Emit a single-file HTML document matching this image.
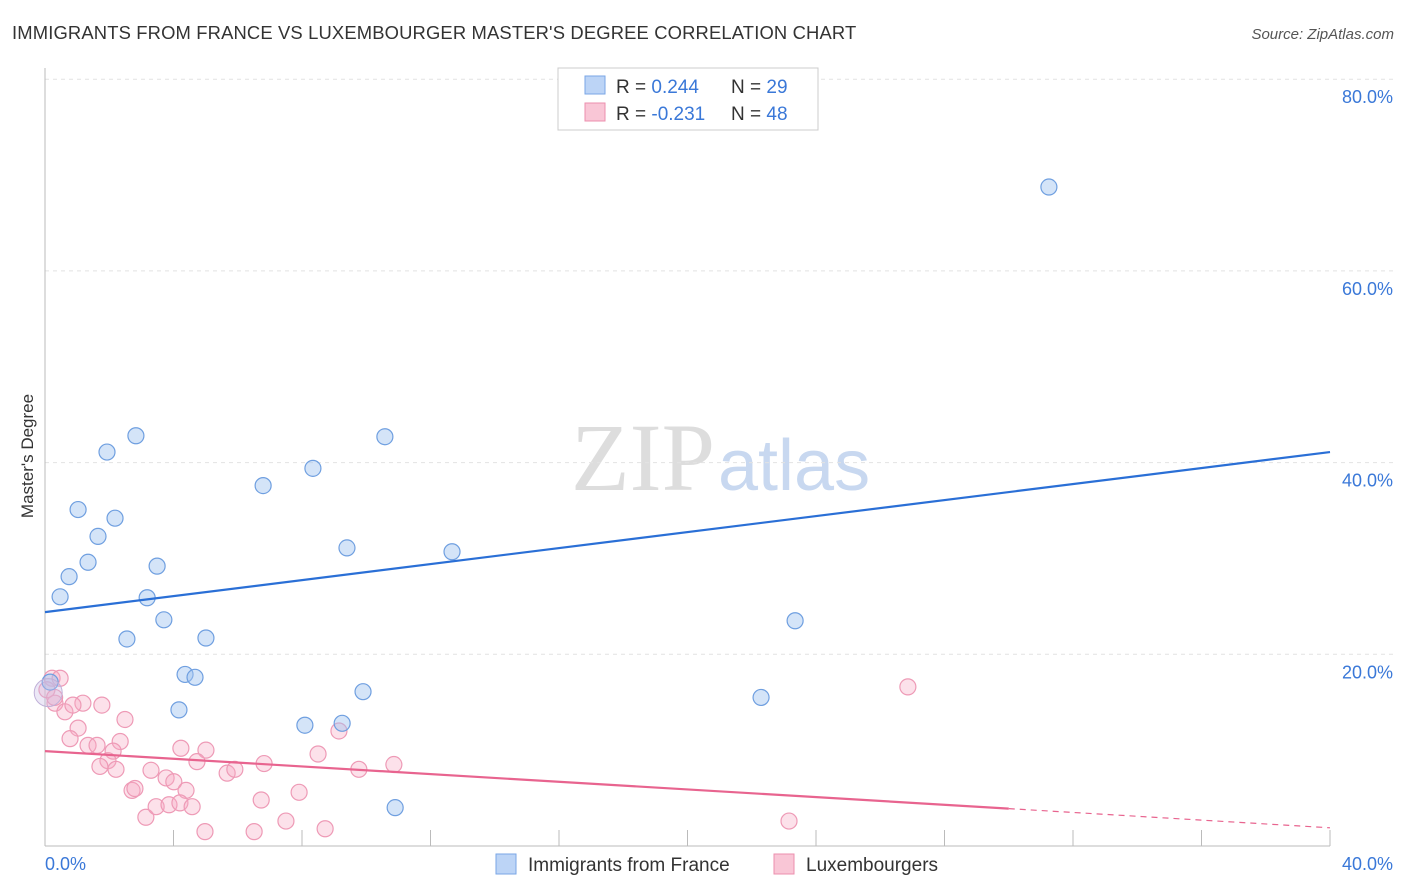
<!DOCTYPE html>
<html><head><meta charset="utf-8"><style>
body{margin:0;background:#fff;font-family:"Liberation Sans",sans-serif;}
svg{display:block}
</style></head><body>
<svg width="1406" height="892" xmlns="http://www.w3.org/2000/svg">
<text x="12" y="39" font-size="18.4" fill="#333" letter-spacing="0.15">IMMIGRANTS FROM FRANCE VS LUXEMBOURGER MASTER'S DEGREE CORRELATION CHART</text>
<text x="1394" y="39" font-size="15" fill="#555" font-style="italic" text-anchor="end">Source: ZipAtlas.com</text>
<text x="715" y="490" font-size="96" fill="#ddd" text-anchor="end" font-family="Liberation Serif,serif">ZIP</text>
<text x="718" y="490" font-size="72" fill="#c8d8f0">atlas</text>
<g id="grid"></g>
<line x1="45" y1="68" x2="45" y2="846" stroke="#bbb"/>
<line x1="45" y1="846" x2="1330" y2="846" stroke="#bbb"/>
<g id="xticks"></g>
<text x="45" y="870" font-size="18" fill="#3a78d8">0.0%</text>
<text x="1393" y="870" font-size="18" fill="#3a78d8" text-anchor="end">40.0%</text>
<text transform="translate(33,456) rotate(-90)" font-size="17" fill="#333" text-anchor="middle">Master's Degree</text>
<g id="points"></g>
<g id="lines"></g>
<g>
<rect x="558" y="68" width="260" height="62" fill="#fff" stroke="#ccc"/>
<rect x="585" y="76" width="20" height="18" fill="#bcd4f6" stroke="#7aa6e6"/>
<text x="616" y="93" font-size="19" fill="#333">R = <tspan fill="#3a78d8">0.244</tspan><tspan x="731">N = </tspan><tspan fill="#3a78d8">29</tspan></text>
<rect x="585" y="103" width="20" height="18" fill="#f9c6d6" stroke="#ec8fae"/>
<text x="616" y="120" font-size="19" fill="#333">R = <tspan fill="#3a78d8">-0.231</tspan><tspan x="731">N = </tspan><tspan fill="#3a78d8">48</tspan></text>
</g>
<g>
<rect x="496" y="854" width="20" height="20" fill="#bcd4f6" stroke="#7aa6e6"/>
<text x="528" y="871" font-size="19" fill="#333">Immigrants from France</text>
<rect x="774" y="854" width="20" height="20" fill="#f9c6d6" stroke="#ec8fae"/>
<text x="806" y="871" font-size="19" fill="#333">Luxembourgers</text>
</g>
</svg>
<script>
const yTicks=[20,40,60,80];
const yTickLabels=["20.0%","40.0%","60.0%","80.0%"];
const xTickVals=[4,8,12,16,20,24,28,32,36,40];
const blueX=[31.25,2.83,1.93,10.58,8.34,6.79,1.03,2.18,1.65,9.40,12.67,1.34,3.49,0.75,0.47,3.18,3.70,23.35,2.55,5.01,4.36,4.67,0.16,9.90,22.29,4.17,8.09,9.25,10.9];
const blueY=[68.75,42.8,41.1,42.7,39.4,37.6,35.1,34.2,32.3,31.1,30.7,29.6,29.2,28.1,26.0,25.9,23.6,23.5,21.6,21.7,17.9,17.6,17.1,16.1,15.5,14.2,12.6,12.8,4.0];
const pinkX=[26.86,23.16,0.22,0.47,0.06,0.31,0.62,1.18,0.87,1.77,1.03,2.49,0.78,1.34,1.62,2.34,2.12,1.96,1.71,2.21,3.30,3.77,4.23,5.01,4.73,4.01,4.39,2.71,2.80,5.67,5.91,6.82,8.50,9.15,9.77,10.86,3.14,3.46,3.86,4.20,4.58,4.98,6.51,6.73,7.50,7.91,8.72,0.3];
const pinkY=[16.6,2.6,17.5,17.5,16.3,14.9,14.0,14.9,14.7,14.7,12.3,13.2,11.2,10.5,10.5,10.9,9.9,8.9,8.3,8.0,7.9,7.1,10.2,10.0,8.8,6.7,5.8,5.8,6.0,7.6,8.0,8.6,9.6,12.0,8.0,8.5,3.0,4.1,4.3,4.5,4.1,1.5,1.5,4.8,2.6,5.6,1.8,15.5];
const blueTrend=[24.4,41.1];
const pinkTrend=[9.9,1.9];
const NS="http://www.w3.org/2000/svg";
const X=v=>45+v*32.125, Y=v=>846-v*9.585;
function mk(t,a,p){const e=document.createElementNS(NS,t);for(const k in a)e.setAttribute(k,a[k]);p.appendChild(e);return e;}
const grid=document.getElementById('grid');
yTicks.forEach((v,i)=>{
 const l=mk('line',{x1:45,x2:1393,y1:Y(v),y2:Y(v),stroke:'#e2e2e2','stroke-dasharray':'4,4'},grid);
 
 
 const t=mk('text',{x:1393,y:Y(v)+24,'font-size':18,fill:'#3a78d8','text-anchor':'end'},grid);
 t.textContent=yTickLabels[i];
 
 
});
const xt=document.getElementById('xticks');
xTickVals.forEach(v=>{
 const l=mk('line',{x1:X(v),x2:X(v),y1:830,y2:846,stroke:'#bbb'},xt);
 
 
});
const pts=document.getElementById('points');
pinkX.forEach((v,i)=>{
 const c=mk('circle',{cx:X(v),cy:Y(pinkY[i]),r:8,fill:'rgba(246,170,195,0.35)',stroke:'#ee9ab6','stroke-width':1.2},pts);
 
 
});
blueX.forEach((v,i)=>{
 const c=mk('circle',{cx:X(v),cy:Y(blueY[i]),r:8,fill:'rgba(160,195,240,0.45)',stroke:'#6f9fe0','stroke-width':1.2},pts);
 
 
});
const big=mk('circle',{cx:X(0.1),cy:Y(16.0),r:14,fill:'rgba(200,190,230,0.35)',stroke:'#c0b0d8'},pts);


const ln=document.getElementById('lines');
const b=mk('line',{x1:X(0),y1:Y(blueTrend[0]),x2:X(40),y2:Y(blueTrend[1]),stroke:'#2a6fd6','stroke-width':2.2},ln);


const px=30, pmid=pinkTrend[0]+(pinkTrend[1]-pinkTrend[0])*px/40;
const p=mk('line',{x1:X(0),y1:Y(pinkTrend[0]),x2:X(px),y2:Y(pmid),stroke:'#e8648f','stroke-width':2.2},ln);


const pd=mk('line',{x1:X(px),y1:Y(pmid),x2:X(40),y2:Y(pinkTrend[1]),stroke:'#e8648f','stroke-width':1.2,'stroke-dasharray':'6,5'},ln);


</script>
</body></html>
